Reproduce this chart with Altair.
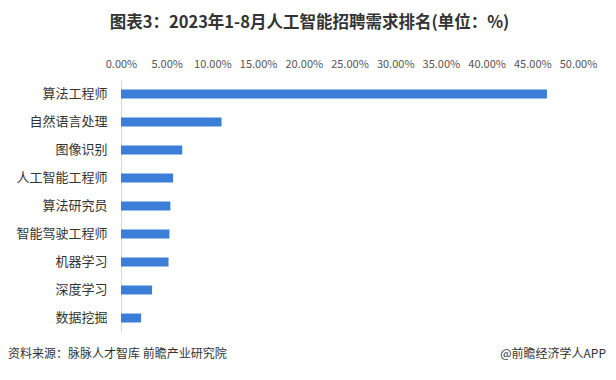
import altair as alt
import pandas as pd

categories = ["算法工程师", "自然语言处理", "图像识别", "人工智能工程师", "算法研究员",
              "智能驾驶工程师", "机器学习", "深度学习", "数据挖掘"]
values = [46.6, 11.0, 6.7, 5.7, 5.4, 5.3, 5.2, 3.4, 2.2]
x_ticks = [0, 5, 10, 15, 20, 25, 30, 35, 40, 45, 50]

title_text = "图表3：2023年1-8月人工智能招聘需求排名(单位：%)"
source_text = "资料来源：脉脉人才智库 前瞻产业研究院"
brand_text = "@前瞻经济学人APP"

df = pd.DataFrame({"category": categories, "value": values})

FONT = "Noto Sans CJK SC"

bars = alt.Chart(df).mark_bar(color="#3A7ED6").encode(
    x=alt.X("value:Q",
            scale=alt.Scale(domain=[0, 50], nice=False),
            axis=alt.Axis(orient="top", values=x_ticks, grid=False, domain=False,
                          ticks=False, labelExpr="format(datum.value, '.2f') + '%'",
                          labelFontSize=11, labelColor="#555555", labelPadding=11,
                          labelOverlap=False, labelFlush=False,
                          labelFont=FONT, title=None)),
    y=alt.Y("category:N", sort=categories,
            scale=alt.Scale(paddingInner=0.68, paddingOuter=0.34),
            axis=alt.Axis(ticks=False, domain=True, domainColor="#d9d9d9",
                          labelFontSize=13, labelColor="#333333", labelPadding=14,
                          labelFont=FONT, title=None, grid=False)),
)

src_df = pd.DataFrame({"t": [source_text]})
src = alt.Chart(src_df).mark_text(
    font=FONT, fontSize=12, color="#333333", align="left", baseline="middle"
).encode(text="t:N", x=alt.value(-113), y=alt.value(274))

brand_df = pd.DataFrame({"t": [brand_text]})
brand = alt.Chart(brand_df).mark_text(
    font=FONT, fontSize=12, color="#333333", align="right", baseline="middle"
).encode(text="t:N", x=alt.value(485), y=alt.value(274))

chart = alt.layer(bars, src, brand).properties(
    width=457, height=252,
    title=alt.TitleParams(title_text, font=FONT, fontSize=16.5, fontWeight="bold",
                          color="#333333", anchor="middle", dx=-40, offset=11,
                          baseline="bottom"),
    background="white",
    autosize=alt.AutoSizeParams(type="none"),
    padding={"left": 113, "top": 72, "right": 30, "bottom": 40},
).configure_view(stroke=None)

chart.save("out.html", embed_options={"renderer": "svg", "actions": False})
